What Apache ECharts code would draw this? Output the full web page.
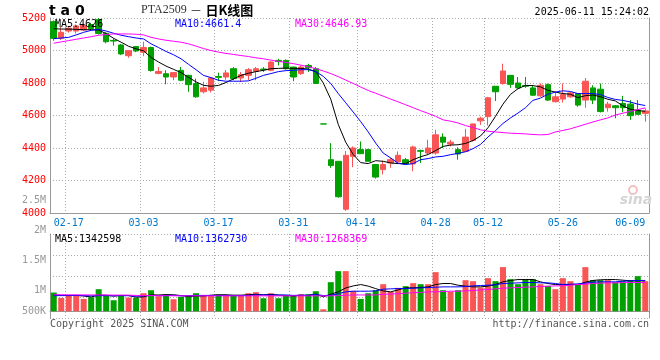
<!DOCTYPE html>
<html><head><meta charset="utf-8">
<script src="https://cdn.jsdelivr.net/npm/echarts@6/dist/echarts.min.js"></script>
<style>html,body{margin:0;padding:0;background:#fff}#c{width:660px;height:360px}</style>
</head><body><div id="c"></div>
<script>
const dates = ['02-13','02-14','02-17','02-18','02-19','02-20','02-21','02-24','02-25','02-26','02-27','02-28',
'03-03','03-04','03-05','03-06','03-07','03-10','03-11','03-12','03-13','03-14','03-17','03-18','03-19','03-20','03-21','03-24','03-25','03-26','03-27','03-28','03-31',
'04-01','04-02','04-03','04-07','04-08','04-09','04-10','04-11','04-14','04-15','04-16','04-17','04-18','04-21','04-22','04-23','04-24','04-25','04-28','04-29','04-30',
'05-06','05-07','05-08','05-09','05-12','05-13','05-14','05-15','05-16','05-19','05-20','05-21','05-22','05-23','05-26','05-27','05-28','05-29','05-30',
'06-03','06-04','06-05','06-06','06-09','06-10','06-11'];
const open = [
5177,5075,5120,5120,5126,5160,5190,5106,5062,5034,
4968,5024,4989,5018,4859,4857,4837,4878,4847,4797,
4746,4756,4840,4837,4888,4831,4847,4872,4886,4878,
4939,4939,4898,4858,4908,4888,4548,4328,4318,4023,
4349,4390,4390,4298,4267,4308,4314,4328,4302,4384,
4369,4369,4467,4424,4390,4379,4447,4567,4593,4780,
4797,4847,4800,4785,4770,4721,4790,4685,4701,4715,
4735,4695,4770,4762,4648,4660,4674,4670,4634,4613];
const close = [
5075,5112,5137,5151,5155,5135,5105,5054,5058,4979,
4999,4997,5018,4877,4871,4837,4864,4817,4790,4715,
4770,4831,4835,4862,4827,4851,4882,4888,4882,4929,
4932,4888,4837,4898,4894,4797,4548,4292,4100,4355,
4400,4365,4318,4221,4298,4328,4355,4302,4406,4380,
4400,4481,4436,4436,4363,4467,4548,4583,4709,4746,
4874,4792,4770,4780,4725,4786,4695,4715,4729,4739,
4664,4811,4695,4624,4670,4648,4648,4599,4607,4628];
const high = [
5185,5144,5145,5160,5165,5170,5200,5112,5075,5040,
5003,5028,5054,5024,4898,4878,4866,4898,4851,4827,
4807,4837,4864,4880,4898,4868,4892,4898,4898,4935,
4949,4945,4900,4908,4918,4898,4548,4430,4318,4382,
4410,4440,4395,4302,4322,4339,4379,4339,4414,4390,
4451,4512,4490,4450,4404,4518,4550,4593,4715,4780,
4919,4847,4837,4837,4786,4797,4797,4746,4797,4746,
4735,4831,4786,4797,4685,4664,4721,4695,4695,4644];
const low = [
5060,5065,5110,5105,5120,5128,5098,5044,5030,4972,
4955,4990,4965,4870,4854,4792,4817,4811,4746,4709,
4736,4742,4811,4820,4817,4807,4817,4817,4868,4872,
4908,4882,4811,4850,4868,4797,4548,4278,4094,4013,
4282,4363,4318,4212,4237,4278,4308,4298,4257,4308,
4363,4359,4400,4410,4328,4375,4440,4542,4538,4689,
4790,4770,4766,4770,4721,4715,4689,4680,4680,4709,
4654,4648,4670,4619,4624,4583,4620,4573,4603,4562];
const ma5 = [
5134,5132,5132,5130,5128,5128,5126,5104,5075,5051,
5026,5010,4998,4957,4929,4904,4884,4864,4835,4807,
4786,4780,4785,4803,4825,4847,4860,4870,4878,4888,
4890,4892,4890,4890,4886,4870,4800,4700,4545,4435,
4360,4310,4304,4322,4318,4308,4304,4304,4328,4346,
4360,4384,4410,4418,4420,4428,4446,4474,4525,4595,
4670,4730,4765,4785,4784,4776,4755,4744,4735,4731,
4710,4722,4726,4716,4700,4690,4660,4638,4630,4626];
const ma10 = [
5073,5077,5081,5096,5112,5124,5130,5120,5106,5094,
5085,5077,5071,5041,5018,4994,4974,4949,4915,4882,
4847,4833,4817,4811,4811,4811,4813,4829,4847,4858,
4870,4876,4878,4882,4882,4870,4841,4797,4735,4678,
4621,4562,4499,4430,4369,4339,4306,4298,4304,4328,
4335,4345,4349,4359,4367,4377,4396,4422,4468,4507,
4551,4585,4615,4648,4693,4707,4731,4744,4752,4748,
4735,4735,4735,4729,4711,4699,4693,4683,4670,4661.4];
const ma30 = [
5045,5053,5061,5069,5077,5085,5094,5098,5102,5102,
5102,5100,5096,5081,5071,5063,5057,5051,5041,5027,
5012,5000,4990,4982,4976,4969,4963,4955,4949,4941,
4933,4927,4919,4910,4900,4888,4874,4858,4839,4818,
4797,4775,4754,4737,4719,4701,4684,4666,4648,4630,
4613,4595,4573,4565,4554,4538,4526,4512,4503,4499,
4495,4491,4489,4487,4483,4481,4483,4499,4508,4518,
4532,4546,4560,4573,4585,4603,4614,4625,4636,4646.93];
// volume in thousands
const volume = [
827,591,709,694,546,620,975,709,487,709,
606,591,798,930,665,709,532,635,694,798,
709,709,738,694,709,709,798,842,576,798,
576,694,709,753,753,886,89,1285,1772,1772,
901,546,798,930,1196,857,1034,1108,1241,1196,
1196,1728,930,871,930,1373,1329,1049,1462,1329,
1950,1418,1196,1418,1418,1196,1122,975,1462,1329,
1196,1950,1373,1373,1373,1285,1329,1373,1551,1329];
const vma5 = [
720,700,690,700,673,632,709,709,667,700,
697,620,638,727,718,739,727,694,647,674,
674,709,730,730,712,712,730,750,727,745,
718,697,671,706,697,759,638,753,860,1030,
1120,1180,1110,1000,900,857,945,1034,1034,1050,
1078,1180,1226,1226,1150,1110,1078,1078,1110,1180,
1300,1360,1400,1400,1400,1300,1226,1180,1180,1180,
1180,1285,1360,1390,1400,1400,1373,1344,1344,1342.598];
const vma10 = [
690,690,695,700,690,680,690,690,685,690,
685,665,675,705,690,690,710,680,690,700,
700,700,690,700,690,690,700,720,720,720,
715,720,700,710,710,740,695,705,776,857,
886,886,886,900,975,990,1004,1004,1020,1034,
1049,1063,1078,1078,1078,1093,1122,1137,1152,1166,
1226,1240,1255,1270,1270,1255,1255,1226,1181,1196,
1210,1240,1285,1300,1300,1300,1329,1344,1358,1362.730];
const vma30 = [
730,730,728,726,724,722,720,718,716,714,
712,700,695,690,688,686,684,682,680,680,
680,680,680,680,680,680,680,680,680,680,
680,680,680,680,680,680,678,680,690,709,
720,720,720,720,750,760,776,800,820,830,
857,857,870,886,886,900,915,945,960,990,
1020,1034,1049,1063,1078,1093,1108,1122,1122,1152,
1181,1196,1226,1240,1255,1255,1270,1270,1270,1268.369];
const dateTicks = ['02-17','03-03','03-17','03-31','04-14','04-28','05-12','05-26','06-09'];
const gridDates = ['02-17','03-03','03-17','03-31','04-14','04-28','05-12','05-26'];
const volTickLabels = ['500K','1M','1.5M','2M','2.5M'];

const RED = '#fa5555', GREEN = '#00a000';
const MONO = 'DejaVu Sans Mono';
const tickSet = new Set(dateTicks), gridSet = new Set(gridDates);
const dotted = {color:'#aaa', type:[1,2], width:1};

const candleData = dates.map((d,i)=>[open[i],close[i],low[i],high[i]]);
const volData = volume.map((v,i)=>({value:v, itemStyle:{color: close[i]>=open[i]?RED:GREEN}}));

const chart = echarts.init(document.getElementById('c'), null, {renderer:'canvas', width:660, height:360});
const lineS = (name, data, color, xi, yi) => ({type:'line', name, data, xAxisIndex:xi, yAxisIndex:yi,
  showSymbol:false, symbol:'none', smooth:false, lineStyle:{color, width:1}, itemStyle:{color}, z:5, silent:true});
const last = a => a[a.length-1];

chart.setOption({
  animation:false,
  backgroundColor:'#fff',
  grid:[
    {left:50, top:18, width:599, height:195},
    {left:50, top:234, width:599, height:84},
    {left:50, top:200, width:599, height:120}
  ],
  xAxis:[
    {type:'category', gridIndex:0, data:dates, boundaryGap:true,
     axisLine:{lineStyle:{color:'#999'}}, axisTick:{show:false},
     axisLabel:{interval:(i,v)=>tickSet.has(v), color:'#0077cc', fontFamily:MONO, fontSize:10, margin:5},
     splitLine:{show:true, interval:(i,v)=>gridSet.has(v), lineStyle:dotted}},
    {type:'category', gridIndex:1, data:dates, boundaryGap:true,
     axisLine:{lineStyle:{color:'#999'}}, axisTick:{show:false}, axisLabel:{show:false},
     splitLine:{show:true, interval:(i,v)=>gridSet.has(v), lineStyle:dotted}},
    {type:'category', gridIndex:2, data:dates, show:false}
  ],
  yAxis:[
    {type:'value', gridIndex:0, min:4000, max:5200, interval:200, position:'left',
     axisLine:{show:true, lineStyle:{color:'#999'}}, axisTick:{show:false},
     axisLabel:{color:'#f00', fontFamily:MONO, fontSize:10, margin:4, formatter:(v)=>String(v)},
     splitLine:{show:true, lineStyle:dotted}},
    {type:'value', gridIndex:0, min:0, max:1, position:'right',
     axisLine:{show:true, lineStyle:{color:'#999'}}, axisTick:{show:false}, axisLabel:{show:false}, splitLine:{show:false}},
    {type:'value', gridIndex:1, min:-297, max:3412, position:'left',
     axisLine:{show:true, lineStyle:{color:'#999'}}, axisTick:{show:false}, axisLabel:{show:false}, splitLine:{show:false}},
    {type:'value', gridIndex:1, min:0, max:4, interval:1, position:'right',
     axisLine:{show:true, lineStyle:{color:'#999'}}, axisTick:{show:false}, axisLabel:{show:false},
     splitLine:{show:true, lineStyle:dotted}},
    {type:'value', gridIndex:2, min:500, max:2500, interval:500, position:'left',
     axisLine:{show:false}, axisTick:{show:false}, splitLine:{show:false},
     axisLabel:{color:'#999', fontFamily:MONO, fontSize:10, margin:4,
       formatter:(v)=>{const t = volTickLabels[Math.round((v-500)/500)]; return v===500 ? '{lo|'+t+'}' : t;},
       rich:{lo:{color:'#999', fontFamily:MONO, fontSize:10, padding:[0,0,18,0]}}}}
  ],
  series:[
    {type:'candlestick', data:candleData, xAxisIndex:0, yAxisIndex:0, barWidth:6, z:2,
     itemStyle:{color:RED, color0:GREEN, borderColor:RED, borderColor0:GREEN, borderWidth:1}},
    lineS('MA5', ma5, '#000', 0, 0),
    lineS('MA10', ma10, '#0000ff', 0, 0),
    lineS('MA30', ma30, '#ff00ff', 0, 0),
    {type:'bar', data:volData, xAxisIndex:1, yAxisIndex:2, barWidth:6, z:2},
    lineS('VMA5', vma5, '#000', 1, 2),
    lineS('VMA10', vma10, '#0000ff', 1, 2),
    lineS('VMA30', vma30, '#ff00ff', 1, 2)
  ],
  graphic:[
    {type:'text', x:49, y:11, z:100, style:{text:'t a 0', font:'bold 14px "DejaVu Sans"', fill:'#000', textVerticalAlign:'middle'}},
    {type:'text', x:141, y:10, z:100, style:{text:'{a|PTA2509} {b|－} {c|日K线图}', textVerticalAlign:'middle',
      rich:{a:{fontFamily:'Liberation Serif', fontSize:12, fill:'#333'}, b:{fontFamily:'Noto Sans CJK SC', fontSize:12, fill:'#333'},
            c:{fontFamily:'Noto Sans CJK SC', fontSize:13, fontWeight:'bold', fill:'#000'}}}},
    {type:'text', x:649, y:12, z:100, style:{text:'2025-06-11 15:24:02', font:'10px "DejaVu Sans Mono"', fill:'#000', textAlign:'right', textVerticalAlign:'middle'}},
    {type:'text', x:55, y:24, z:100, style:{text:'MA5:'+last(ma5), font:'10px "DejaVu Sans Mono"', fill:'#000', textVerticalAlign:'middle'}},
    {type:'text', x:175, y:24, z:100, style:{text:'MA10:'+last(ma10), font:'10px "DejaVu Sans Mono"', fill:'#0000ff', textVerticalAlign:'middle'}},
    {type:'text', x:295, y:24, z:100, style:{text:'MA30:'+last(ma30), font:'10px "DejaVu Sans Mono"', fill:'#ff00ff', textVerticalAlign:'middle'}},
    {type:'text', x:55, y:239, z:100, style:{text:'MA5:'+Math.round(last(vma5)*1000), font:'10px "DejaVu Sans Mono"', fill:'#000', textVerticalAlign:'middle'}},
    {type:'text', x:175, y:239, z:100, style:{text:'MA10:'+Math.round(last(vma10)*1000), font:'10px "DejaVu Sans Mono"', fill:'#0000ff', textVerticalAlign:'middle'}},
    {type:'text', x:295, y:239, z:100, style:{text:'MA30:'+Math.round(last(vma30)*1000), font:'10px "DejaVu Sans Mono"', fill:'#ff00ff', textVerticalAlign:'middle'}},
    {type:'text', x:50, y:324, z:100, style:{text:'Copyright 2025 SINA.COM', font:'10px "DejaVu Sans Mono"', fill:'#555', textVerticalAlign:'middle'}},
    {type:'text', x:649, y:324, z:100, style:{text:'http://finance.sina.com.cn', font:'10px "DejaVu Sans Mono"', fill:'#555', textAlign:'right', textVerticalAlign:'middle'}},
    {type:'circle', z:1, shape:{cx:633, cy:190, r:4}, style:{fill:'none', stroke:'#f4c0c0', lineWidth:2}},
    {type:'text', x:636, y:200, z:1, style:{text:'sina', font:'italic bold 14px "DejaVu Sans"', fill:'#d4d4d4', textAlign:'center', textVerticalAlign:'middle'}}
  ]
});
</script></body></html>
